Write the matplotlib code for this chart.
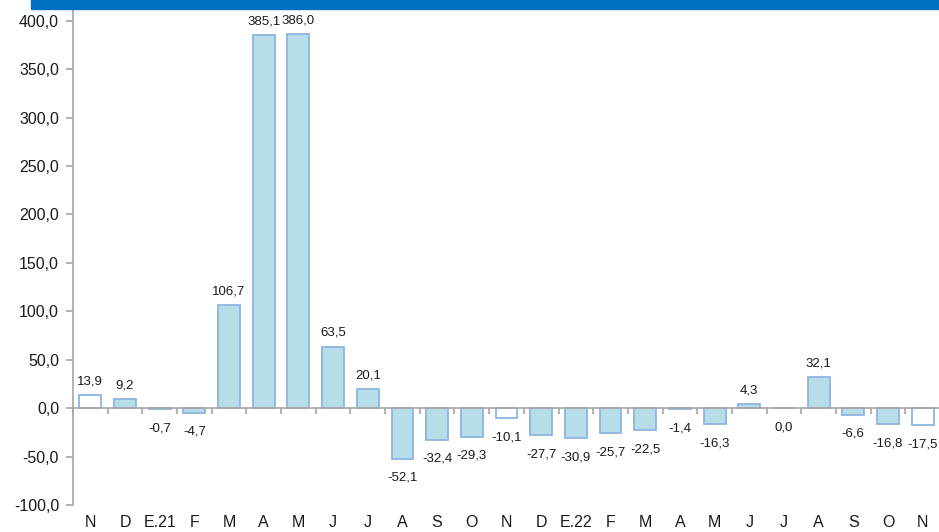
import matplotlib
matplotlib.use("Agg")
import matplotlib.pyplot as plt
import matplotlib.patches as mpatches
from matplotlib.ticker import FuncFormatter, FixedLocator
import numpy as np

categories = ["N", "D", "E.21", "F", "M", "A", "M", "J", "J", "A", "S", "O", "N",
              "D", "E.22", "F", "M", "A", "M", "J", "J", "A", "S", "O", "N"]
values = [13.9, 9.2, -0.7, -4.7, 106.7, 385.1, 386.0, 63.5, 20.1, -52.1, -32.4, -29.3, -10.1,
          -27.7, -30.9, -25.7, -22.5, -1.4, -16.3, 4.3, 0.0, 32.1, -6.6, -16.8, -17.5]
white_idx = [0, 12, 24]
yticks = [-100, -50, 0, 50, 100, 150, 200, 250, 300, 350, 400]

plt.rcParams['font.family'] = ['Liberation Sans', 'DejaVu Sans']

W, H = 939, 532
fig = plt.figure(figsize=(W / 100, H / 100), dpi=100)
left = 73 / W
right = 940 / W
bottom = (H - 505) / H
top = (H - 10) / H
ax = fig.add_axes([left, bottom, right - left, top - bottom])

# top blue band
fig.patches.append(mpatches.Rectangle((31 / W, (H - 9) / H), 1 - 31 / W, 9 / H,
                                      transform=fig.transFigure, color="#0070C0", zorder=0))

fill = "#B7DDE8"
edge = "#8DB4E2"
x = np.arange(len(categories))
colors = [("white" if i in white_idx else fill) for i in range(len(values))]
ax.bar(x, values, width=0.63, color=colors, edgecolor=edge, linewidth=1.3, zorder=2)

def fmt(v):
    return f"{v:.1f}".replace(".", ",")

for xi, v in zip(x, values):
    if v > 0:
        ax.annotate(fmt(v), (xi, v), xytext=(0, 5.5), textcoords="offset points",
                    ha="center", va="bottom", fontsize=9.5, color="#1a1a1a")
    else:
        ax.annotate(fmt(v), (xi, v), xytext=(0, -9.5), textcoords="offset points",
                    ha="center", va="top", fontsize=9.5, color="#1a1a1a")

ax.set_xlim(-0.5, len(categories) - 0.5)
ax.set_ylim(-100, 411)

gray = "#A6A6A6"
for s in ["top", "right"]:
    ax.spines[s].set_visible(False)
ax.spines["left"].set_color(gray)
ax.spines["left"].set_linewidth(1.2)
ax.spines["bottom"].set_position(("data", 0))
ax.spines["bottom"].set_color(gray)
ax.spines["bottom"].set_linewidth(1.2)

ax.yaxis.set_major_locator(FixedLocator(yticks))
ax.yaxis.set_major_formatter(FuncFormatter(lambda v, p: fmt(v)))
ax.tick_params(axis="y", length=5, color=gray, width=1.2, labelsize=11.5,
               labelcolor="#1a1a1a", pad=5)

ax.xaxis.set_major_locator(FixedLocator(np.arange(-0.5, len(categories), 1.0)))
ax.tick_params(axis="x", length=4, color=gray, width=1.2, labelbottom=False, direction="out")

for xi, c in zip(x, categories):
    ax.text(xi, -0.035, c, transform=ax.get_xaxis_transform(), ha="center", va="center",
            fontsize=11.5, color="#1a1a1a")

fig.savefig("out.png", dpi=100)
